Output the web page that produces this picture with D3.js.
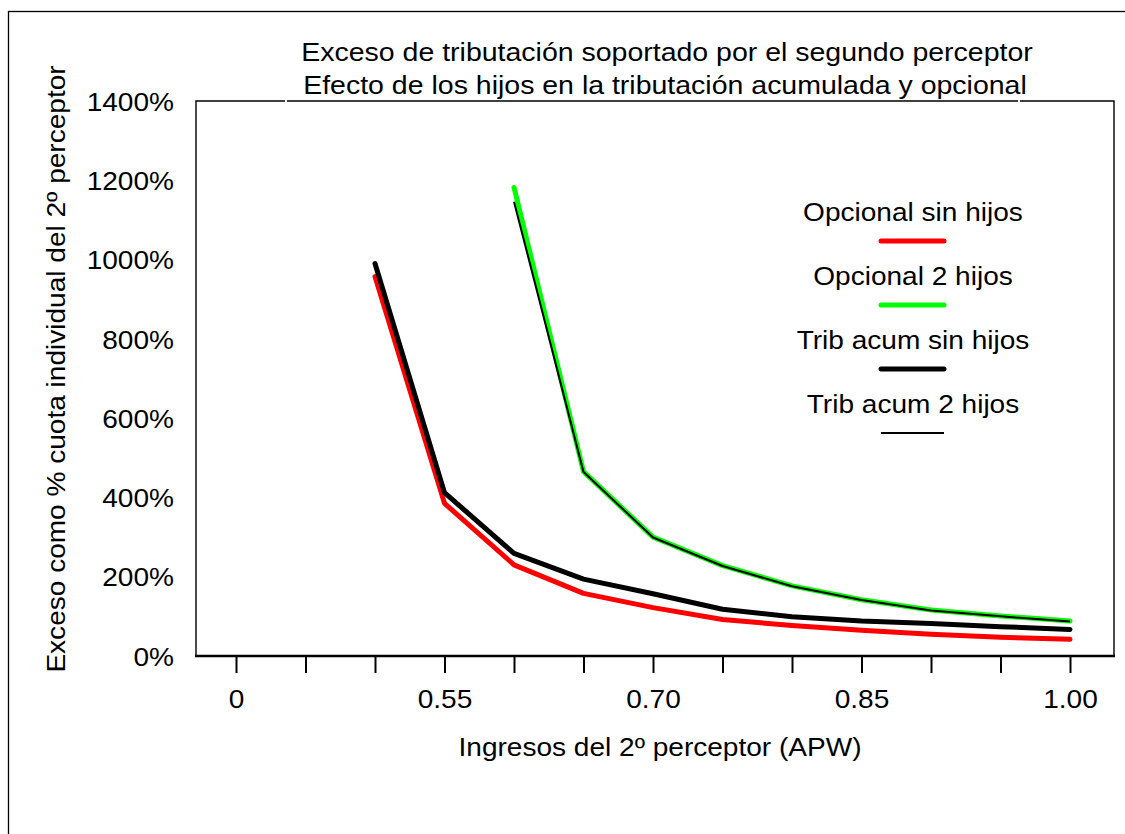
<!DOCTYPE html>
<html>
<head>
<meta charset="utf-8">
<script src="https://cdn.jsdelivr.net/npm/d3@7"></script>
<style>
  html, body { margin: 0; padding: 0; background: #fff; }
  svg { display: block; }
  text { font-family: "Liberation Sans", Arial, sans-serif; fill: #000; }
</style>
</head>
<body>
<svg id="chart" width="1125" height="834"></svg>
<script>
// ---------- data ----------
const categories = ["0", "0.45", "0.50", "0.55", "0.60", "0.65", "0.70", "0.75", "0.80", "0.85", "0.90", "0.95", "1.00"];
const xTickLabels = ["0", "", "", "0.55", "", "", "0.70", "", "", "0.85", "", "", "1.00"];
const yTicks = [0, 200, 400, 600, 800, 1000, 1200, 1400];

const opcionalSinHijos = [null, null, 957, 385, 230, 158, 122, 92, 77, 65, 55, 47, 42];
const opcional2Hijos   = [null, null, null, null, 1182, 465, 300, 228, 177, 142, 116, 101, 88];
const tribAcumSinHijos = [null, null, 990, 412, 259, 194, 157, 118, 99, 88, 82, 74, 67];
const tribAcum2Hijos   = [null, null, null, null, 1146, 464, 299, 227, 176, 141, 115, 100, 87];

const seriesNames = ["Opcional sin hijos", "Opcional 2 hijos", "Trib acum sin hijos", "Trib acum 2 hijos"];
const seriesValues = [opcionalSinHijos, opcional2Hijos, tribAcumSinHijos, tribAcum2Hijos];
const seriesColors = ["#ff0000", "#00ff00", "#000000", "#000000"];
const seriesWidths = [5, 5, 5, 2];

const titleLines = ["Exceso de tributación soportado por el segundo perceptor",
                    "Efecto de los hijos en la tributación acumulada y opcional"];
const xTitle = "Ingresos del 2º perceptor (APW)";
const yTitle = "Exceso como % cuota individual del 2º perceptor";

// ---------- layout ----------
const FS = 25.5, SX = 1.1;
const plot = { left: 196, top: 101, right: 1114, bottom: 656 };
const svg = d3.select("#chart");

const x = d3.scalePoint().domain(categories).range([236, 1070]);
const y = d3.scaleLinear().domain([0, 1400]).range([plot.bottom, plot.top]);

function txt(g, px, py, s, anchor, rot, fs) {
  return g.append("text")
    .attr("transform", `translate(${px},${py})` + (rot ? ` rotate(${rot})` : "") + ` scale(${SX},1)`)
    .attr("text-anchor", anchor || "middle")
    .style("font-size", (fs || FS) + "px")
    .text(s);
}

// outer frame
svg.append("rect").attr("x", 8.5).attr("y", 11.5).attr("width", 1130).attr("height", 840)
  .attr("fill", "none").attr("stroke", "#000").attr("stroke-width", 1.3);

// plot frame
svg.append("path")
  .attr("d", `M${plot.left},${plot.bottom} V${plot.top} H${plot.right} V${plot.bottom}`)
  .attr("fill", "none").attr("stroke", "#000").attr("stroke-width", 1.4);
// small gaps in the top frame at the title box edges
svg.append("rect").attr("x", 285).attr("y", plot.top - 2).attr("width", 2).attr("height", 4).attr("fill", "#fff");
svg.append("rect").attr("x", 1018).attr("y", plot.top - 2).attr("width", 2).attr("height", 4).attr("fill", "#fff");
// x axis baseline
svg.append("line").attr("x1", plot.left - 1).attr("x2", plot.right + 1)
  .attr("y1", plot.bottom).attr("y2", plot.bottom)
  .attr("stroke", "#000").attr("stroke-width", 2.6);

// y axis
const yAxis = svg.append("g").attr("transform", `translate(${plot.left},0)`)
  .call(d3.axisLeft(y).tickValues(yTicks).tickSize(0).tickPadding(20).tickFormat(d => d + "%"));
yAxis.select(".domain").remove();
yAxis.selectAll("text")
  .attr("font-family", null)
  .style("font-size", FS + "px")
  .attr("dy", "0.36em")
  .attr("transform", `scale(${SX},1)`);

// x axis
const xAxis = svg.append("g").attr("transform", `translate(0,${plot.bottom})`)
  .call(d3.axisBottom(x).tickSize(17).tickPadding(17).tickFormat((d, i) => xTickLabels[i]));
xAxis.select(".domain").remove();
xAxis.selectAll("line").attr("stroke", "#000").attr("stroke-width", 2);
xAxis.selectAll("text")
  .attr("font-family", null)
  .style("font-size", FS + "px")
  .attr("transform", `scale(${SX},1)`);

// series lines
const line = d3.line()
  .defined(d => d != null)
  .x((d, i) => x(categories[i]))
  .y(d => y(d));

seriesValues.forEach((vals, k) => {
  svg.append("path")
    .datum(vals)
    .attr("d", line)
    .attr("fill", "none")
    .attr("stroke", seriesColors[k])
    .attr("stroke-width", seriesWidths[k])
    .attr("stroke-linejoin", "round")
    .attr("stroke-linecap", k === 3 ? "butt" : "round");
});

// titles
const tg = svg.append("g");
txt(tg, 667, 61, titleLines[0], "middle", 0, 25.9);
txt(tg, 665, 94, titleLines[1], "middle", 0, 25.9);
txt(tg, 660, 756, xTitle);
txt(tg, 65, 369, yTitle, "middle", -90);

// legend
const lg = svg.append("g");
seriesNames.forEach((name, k) => {
  const by = 221 + k * 64;
  txt(lg, 913, by, name);
  lg.append("line")
    .attr("x1", 881).attr("x2", 944)
    .attr("y1", by + 20).attr("y2", by + 20)
    .attr("stroke", seriesColors[k])
    .attr("stroke-width", seriesWidths[k])
    .attr("stroke-linecap", k === 3 ? "butt" : "round");
});
</script>
</body>
</html>
